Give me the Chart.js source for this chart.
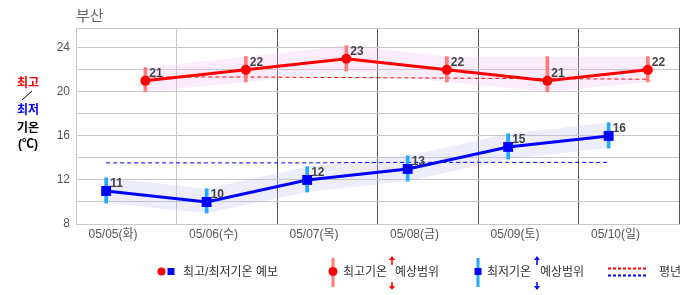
<!DOCTYPE html>
<html>
<head>
<meta charset="utf-8">
<script src="https://cdn.jsdelivr.net/npm/chart.js@4.4.1/dist/chart.umd.min.js"></script>
<style>
  body { margin: 0; background: #fff; font-family: "Liberation Sans", "Noto Sans CJK KR", sans-serif; }
  #wrap { position: relative; width: 686px; height: 295px; overflow: hidden; }
  #chartBox { position: absolute; left: 0; top: 0; width: 686px; height: 295px; }
  .t { position: absolute; white-space: nowrap; line-height: 1; }
  .side { font-weight: bold; font-size: 12px; width: 56px; left: 0; text-align: center; }
  .leg { font-size: 12px; color: #333; top: 266px; }
  svg { position: absolute; left: 0; top: 0; }
</style>
</head>
<body>
<div id="wrap">
  <div id="chartBox"><canvas id="myChart"></canvas></div>

  <div class="t" style="left:76px; top:8px; font-size:15px; color:#666;">부산</div>

  <div class="t side" style="top:77px; color:#f00;">최고</div>
  <div class="t side" style="top:104px; color:#00f;">최저</div>
  <div class="t side" style="top:122px; color:#000;">기온</div>
  <div class="t side" style="top:138px; color:#000;">(℃)</div>

  <svg width="686" height="295">
    <line x1="22" y1="100" x2="32" y2="91" stroke="#000" stroke-width="1"/>

    <!-- legend: forecast -->
    <circle cx="161.5" cy="271.5" r="4" fill="#f00"/>
    <rect x="167.5" y="268" width="7" height="7" fill="#00f"/>

    <!-- legend: high range -->
    <rect x="331.5" y="258" width="3" height="29" fill="#ff7a7a"/>
    <circle cx="333" cy="271.5" r="4.5" fill="#f00"/>
    <line x1="392" y1="259" x2="392" y2="265" stroke="#f00" stroke-width="1.5"/>
    <polygon points="392,256 389,260 395,260" fill="#f00"/>
    <line x1="392" y1="282" x2="392" y2="287" stroke="#f00" stroke-width="1.5"/>
    <polygon points="392,290 389,286 395,286" fill="#f00"/>

    <!-- legend: low range -->
    <rect x="476.5" y="258" width="3" height="29" fill="#22aaff"/>
    <rect x="474.5" y="268" width="7" height="7" fill="#00f"/>
    <line x1="537" y1="259" x2="537" y2="265" stroke="#00f" stroke-width="1.5"/>
    <polygon points="537,256 534,260 540,260" fill="#00f"/>
    <line x1="537" y1="282" x2="537" y2="287" stroke="#00f" stroke-width="1.5"/>
    <polygon points="537,290 534,286 540,286" fill="#00f"/>

    <!-- legend: normals -->
    <line x1="608" y1="268.5" x2="648" y2="268.5" stroke="#f00" stroke-width="2" stroke-dasharray="3,2"/>
    <line x1="608" y1="275.5" x2="648" y2="275.5" stroke="#00f" stroke-width="2" stroke-dasharray="3,2"/>
  </svg>

  <div class="t leg" style="left:183px;">최고/최저기온 예보</div>
  <div class="t leg" style="left:343px;">최고기온</div>
  <div class="t leg" style="left:395px;">예상범위</div>
  <div class="t leg" style="left:487px;">최저기온</div>
  <div class="t leg" style="left:540px;">예상범위</div>
  <div class="t leg" style="left:659px;">평년</div>
</div>

<script>
// days shown on the x axis
var days = ["05/05(화)", "05/06(수)", "05/07(목)", "05/08(금)", "05/09(토)", "05/10(일)"];

// forecast highs / lows (℃)
var highTemps = [21, 22, 23, 22, 21, 22];
var lowTemps = [11, 10, 12, 13, 15, 16];

// expected ranges
var highMin = [20.0, 20.9, 21.9, 20.9, 20.0, 20.9];
var highMax = [22.2, 23.2, 24.2, 23.2, 23.2, 23.2];
var lowMin = [9.9, 9.0, 10.9, 11.9, 13.9, 14.9];
var lowMax = [12.2, 11.2, 13.2, 14.2, 16.2, 17.2];

// normals (평년)
var highNormal = [21.35, 21.35, 21.3, 21.25, 21.2, 21.15];
var lowNormal = [13.55, 13.55, 13.55, 13.6, 13.6, 13.6];

// y axis ticks
var yTicks = [8, 10, 12, 14, 16, 18, 20, 22, 24, 25.8];

// time of day (fraction of a day) for lows and highs
var LOW_TIME = 0.3;
var HIGH_TIME = 0.69;

function pts(values, t) {
  return values.map(function(v, i) { return { x: i + t, y: v }; });
}

function ranges(lo, hi, t) {
  return lo.map(function(v, i) { return { x: i + t, y: [v, hi[i]] }; });
}

var labelPlugin = {
  id: 'valueLabels',
  afterDatasetsDraw: function(chart) {
    var ctx = chart.ctx;
    ctx.save();
    ctx.font = 'bold 12px "Liberation Sans", sans-serif';
    ctx.fillStyle = '#444';
    ctx.textAlign = 'left';
    ctx.textBaseline = 'alphabetic';
    [0, 1].forEach(function(di) {
      var meta = chart.getDatasetMeta(di);
      meta.data.forEach(function(el, i) {
        ctx.fillText(String(chart.data.datasets[di].data[i].y), el.x + 4, el.y - 4);
      });
    });
    ctx.restore();
  }
};

var ctx = document.getElementById('myChart').getContext('2d');
var chart = new Chart(ctx, {
  type: 'line',
  data: {
    datasets: [
      {
        // high forecast
        data: pts(highTemps, HIGH_TIME),
        borderColor: '#ff0000',
        borderWidth: 3,
        pointRadius: 5,
        pointBackgroundColor: '#ff0000',
        pointBorderWidth: 0,
        order: 0
      },
      {
        // low forecast
        data: pts(lowTemps, LOW_TIME),
        borderColor: '#0000ff',
        borderWidth: 3,
        pointStyle: 'rect',
        pointRadius: 7,
        pointBackgroundColor: '#0000ff',
        pointBorderWidth: 0,
        order: 0
      },
      {
        type: 'bar',
        data: ranges(highMin, highMax, HIGH_TIME),
        backgroundColor: '#ff7a7a',
        barThickness: 3,
        grouped: false,
        order: 1
      },
      {
        type: 'bar',
        data: ranges(lowMin, lowMax, LOW_TIME),
        backgroundColor: '#22aaff',
        barThickness: 3,
        grouped: false,
        order: 1
      },
      {
        // high normal
        data: pts(highNormal, HIGH_TIME),
        borderColor: '#ff0000',
        borderWidth: 1,
        borderDash: [4, 3],
        pointRadius: 0,
        order: 2
      },
      {
        // low normal
        data: pts(lowNormal, LOW_TIME),
        borderColor: '#0000ff',
        borderWidth: 1,
        borderDash: [4, 3],
        pointRadius: 0,
        order: 2
      },
      {
        data: pts(highMax, HIGH_TIME),
        borderWidth: 0,
        pointRadius: 0,
        fill: false,
        order: 3
      },
      {
        data: pts(highMin, HIGH_TIME),
        borderWidth: 0,
        pointRadius: 0,
        fill: '-1',
        backgroundColor: 'rgba(240,180,240,0.25)',
        order: 3
      },
      {
        data: pts(lowMax, LOW_TIME),
        borderWidth: 0,
        pointRadius: 0,
        fill: false,
        order: 3
      },
      {
        data: pts(lowMin, LOW_TIME),
        borderWidth: 0,
        pointRadius: 0,
        fill: '-1',
        backgroundColor: 'rgba(180,180,240,0.25)',
        order: 3
      }
    ]
  },
  options: {
    responsive: true,
    maintainAspectRatio: false,
    animation: false,
    layout: { padding: { left: 40, right: 1, top: 28, bottom: 45 } },
    plugins: {
      legend: { display: false },
      tooltip: { enabled: false }
    },
    elements: { line: { tension: 0 } },
    scales: {
      x: {
        type: 'linear',
        min: 0,
        max: 6,
        offset: false,
        afterBuildTicks: function(scale) {
          scale.ticks = [0, 1, 2, 3, 4, 5, 6].map(function(v) { return { value: v }; });
        },
        afterFit: function(scale) { scale.height = 26; },
        grid: {
          offset: false,
          drawTicks: false,
          color: function(c) { return c.index < 2 ? '#c8c8c8' : '#555555'; }
        },
        border: { color: '#c8c8c8' },
        ticks: {
          autoSkip: false,
          maxRotation: 0,
          padding: 3,
          labelOffset: 37,
          color: '#555',
          font: { family: '"Liberation Sans", "Noto Sans CJK KR", sans-serif', size: 12 },
          callback: function(v) { return days[v] || ''; }
        }
      },
      y: {
        min: 8,
        max: 25.8,
        afterBuildTicks: function(scale) {
          scale.ticks = yTicks.map(function(v) { return { value: v }; });
        },
        afterFit: function(scale) { scale.width = 36; },
        grid: { color: '#c8c8c8', drawTicks: false },
        border: { color: '#c8c8c8' },
        ticks: {
          padding: 6,
          color: '#555',
          font: { family: '"Liberation Sans", sans-serif', size: 12 },
          callback: function(v) { return v % 4 === 0 ? v : ''; }
        }
      }
    }
  },
  plugins: [labelPlugin]
});
</script>
</body>
</html>
